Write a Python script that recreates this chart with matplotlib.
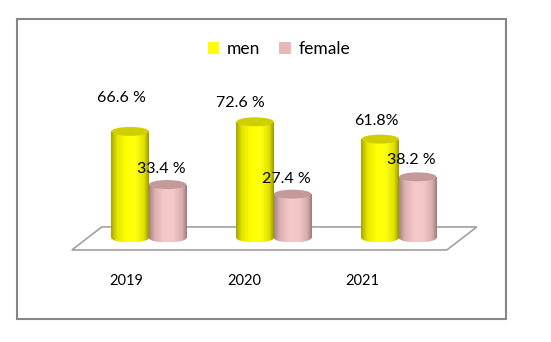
import numpy as np
import matplotlib
matplotlib.use('Agg')
import matplotlib.pyplot as plt
from matplotlib.patches import Ellipse, Polygon, Rectangle, Patch
from matplotlib.colors import LinearSegmentedColormap

plt.rcParams['font.family'] = ['Lato', 'DejaVu Sans']

years = ['2019', '2020', '2021']
men = [66.6, 72.6, 61.8]
female = [33.4, 27.4, 38.2]
men_labels = ['66.6 %', '72.6 %', '61.8%']
female_labels = ['33.4 %', '27.4 %', '38.2 %']

# label nudges (x in category units, y in percent units)
men_dx = [-0.07, -0.12, -0.03]
men_dy = [21, 12, 11]
fem_dx = [-0.05, -0.05, -0.05]
fem_dy = [10, 9.5, 10.5]

fig = plt.figure(figsize=(5.51, 3.42), dpi=100)
ax = fig.add_axes([0.134, 0.234, 0.726, 0.538])

bw = 0.3
eh = 5.6  # ellipse height in percent units

men_cmap = LinearSegmentedColormap.from_list('m', [(0, '#a8a800'), (0.15, '#e4e400'), (0.4, '#ffff00'),
                                                   (0.65, '#ffff10'), (0.88, '#e0e000'), (1, '#9c9c00')])
fem_cmap = LinearSegmentedColormap.from_list('f', [(0, '#a88484'), (0.15, '#dcb0b0'), (0.4, '#f5c9c9'),
                                                   (0.65, '#f3c7c7'), (0.88, '#d8aeae'), (1, '#a07c7c')])
grad = np.linspace(0, 1, 64).reshape(1, -1)

x = np.arange(len(years))

# floor
floor = Polygon([(-0.376, 6.9), (2.624, 6.9), (2.384, -7.5), (-0.616, -7.5)], closed=True,
                facecolor='white', edgecolor='#a0a0a0', lw=1.2, zorder=1, clip_on=False)
ax.add_patch(floor)


def cylinders(xs, vals, cmap, top_color):
    bars = ax.bar(xs, vals, bw, color=top_color, zorder=3)
    for b, xc, v in zip(bars, xs, vals):
        x0 = xc - bw / 2
        x1 = xc + bw / 2
        im = ax.imshow(grad, extent=[x0, x1, 0, v], aspect='auto', cmap=cmap, zorder=3.1)
        im.set_clip_path(b)
        bottom = Ellipse((xc, 0), bw, eh, facecolor='none', edgecolor='none', zorder=2.9)
        ax.add_patch(bottom)
        im2 = ax.imshow(grad, extent=[x0, x1, -eh / 2, 0.5], aspect='auto', cmap=cmap, zorder=2.9)
        im2.set_clip_path(bottom)
        ax.add_patch(Ellipse((xc, v), bw, eh, facecolor=top_color, edgecolor='none', zorder=4))


cylinders(x - bw / 2, men, men_cmap, '#cfcf00')
cylinders(x + bw / 2, female, fem_cmap, '#c49999')

for i in range(len(years)):
    ax.text(x[i] - bw / 2 + men_dx[i], men[i] + men_dy[i], men_labels[i], ha='center', va='center',
            fontsize=11.5, zorder=6)
    ax.text(x[i] + bw / 2 + fem_dx[i], female[i] + fem_dy[i], female_labels[i], ha='center', va='center',
            fontsize=11.5, zorder=6)
    ax.text(x[i] - 0.18 - 0.055 * i, -27, years[i], ha='center', va='center', fontsize=10.5, clip_on=False)

ax.set_xlim(-0.6, 2.6)
ax.set_ylim(-15, 100)
ax.axis('off')

handles = [Patch(facecolor='#ffff00'), Patch(facecolor='#e6b9b8')]
fig.legend(handles, ['men', 'female'], loc='center', bbox_to_anchor=(279 / 551, 1 - 49 / 342), ncol=2,
           frameon=False, fontsize=12.5, handlelength=0.65, handleheight=0.65, handletextpad=0.45,
           columnspacing=1.1)

fig.patches.append(Rectangle((17 / 551, 23 / 342), 489 / 551, 300 / 342, transform=fig.transFigure,
                             facecolor='none', edgecolor='#868686', lw=1.5))

fig.savefig('out.png', dpi=100)
